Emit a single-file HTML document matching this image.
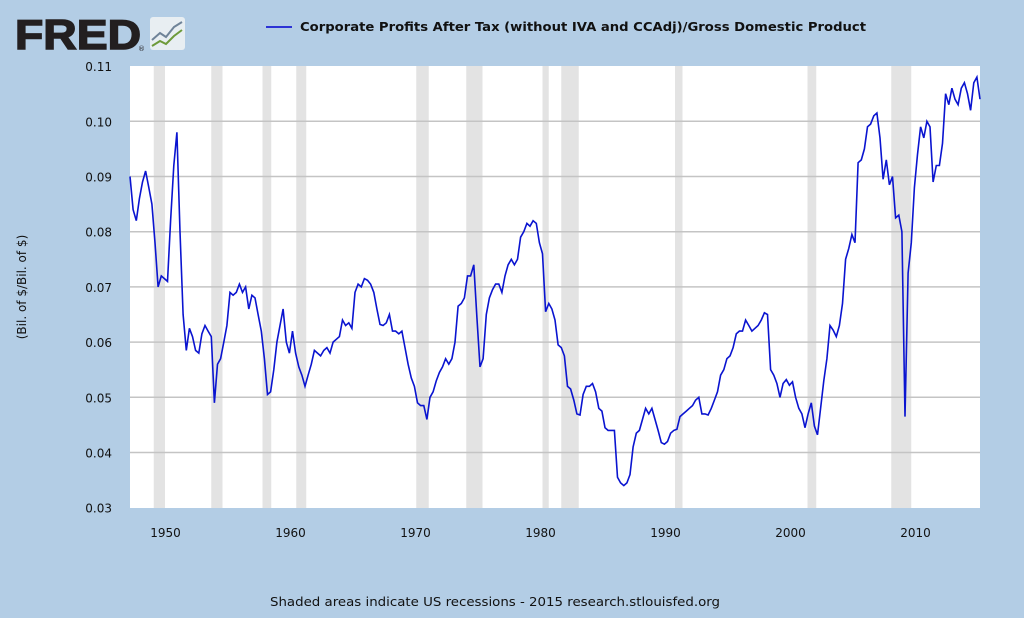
<!DOCTYPE html>
<html><head><meta charset="utf-8"><style>
body{margin:0;width:1024px;height:614px;background:#b3cde5;font-family:"DejaVu Sans",sans-serif;overflow:hidden}
</style></head><body>
<svg width="1024" height="614" id="svg" font-family="DejaVu Sans">
<g>
<text x="15" y="49" font-size="42" font-weight="bold" fill="#231f20" font-family="Liberation Sans" textLength="126" lengthAdjust="spacingAndGlyphs" stroke="#231f20" stroke-width="1.5">FRED</text>
<text x="138" y="51" font-size="7" fill="#231f20">®</text>
<rect x="150" y="17" width="35" height="33" rx="3" fill="#e8eef2"/>
<polyline points="152,40 160,33 166,37 174,27 182,22" fill="none" stroke="#6f8398" stroke-width="2"/>
<polyline points="152,46 160,41 166,44 174,36 182,30" fill="none" stroke="#6d9a3a" stroke-width="2"/>
</g>
<line x1="266" y1="27" x2="292" y2="27" stroke="#0000d0" stroke-width="1.5"/>
<text x="300" y="31" font-size="12" font-weight="bold" fill="#111" textLength="566" lengthAdjust="spacingAndGlyphs">Corporate Profits After Tax (without IVA and CCAdj)/Gross Domestic Product</text>
<rect x="130" y="66" width="850" height="442" fill="#fff"/>
<g id="rec"></g><g id="grid"></g><g id="ticks"></g>
<path id="line" fill="none" stroke="#0a14d0" stroke-width="1.6"/>
<text x="26" y="287" font-size="12" fill="#111" transform="rotate(-90 26 287)" text-anchor="middle">(Bil. of $/Bil. of $)</text>
<text x="270" y="606" font-size="12" fill="#111" textLength="450" lengthAdjust="spacingAndGlyphs">Shaded areas indicate US recessions - 2015 research.stlouisfed.org</text>
</svg>
<script>
const years=[];
const values=[0.090,0.084,0.082,0.086,0.089,0.091,0.088,0.085,0.078,0.070,0.072,0.0715,0.071,0.082,0.092,0.098,0.080,0.065,0.0585,0.0625,0.061,0.0585,0.058,0.0615,0.063,0.062,0.061,0.049,0.056,0.057,0.060,0.063,0.069,0.0685,0.069,0.0705,0.069,0.070,0.066,0.0685,0.068,0.065,0.062,0.057,0.0505,0.051,0.055,0.060,0.063,0.066,0.060,0.058,0.062,0.058,0.0555,0.054,0.052,0.054,0.056,0.0585,0.058,0.0575,0.0585,0.059,0.058,0.060,0.0605,0.061,0.064,0.063,0.0635,0.0625,0.069,0.0705,0.070,0.0715,0.0712,0.0705,0.069,0.066,0.0632,0.063,0.0635,0.065,0.062,0.062,0.0615,0.062,0.059,0.056,0.0535,0.052,0.049,0.0485,0.0485,0.046,0.050,0.051,0.053,0.0545,0.0555,0.057,0.056,0.057,0.060,0.0665,0.067,0.068,0.072,0.072,0.074,0.0645,0.0555,0.057,0.065,0.068,0.0695,0.0705,0.0705,0.069,0.072,0.074,0.075,0.074,0.075,0.079,0.080,0.0815,0.081,0.082,0.0815,0.078,0.076,0.0655,0.067,0.066,0.064,0.0595,0.059,0.0575,0.052,0.0515,0.0495,0.047,0.0468,0.0505,0.052,0.052,0.0525,0.051,0.048,0.0475,0.0445,0.044,0.044,0.044,0.0355,0.0345,0.034,0.0345,0.036,0.041,0.0435,0.044,0.046,0.048,0.047,0.048,0.046,0.044,0.0418,0.0415,0.042,0.0435,0.044,0.0442,0.0465,0.047,0.0475,0.048,0.0485,0.0495,0.050,0.047,0.047,0.0468,0.048,0.0495,0.051,0.054,0.055,0.057,0.0575,0.059,0.0615,0.062,0.062,0.064,0.063,0.062,0.0625,0.063,0.064,0.0653,0.065,0.055,0.054,0.0525,0.050,0.0525,0.0532,0.0522,0.0528,0.050,0.048,0.047,0.0445,0.047,0.049,0.0448,0.0432,0.048,0.053,0.057,0.063,0.0622,0.061,0.063,0.067,0.075,0.077,0.0795,0.078,0.0925,0.093,0.095,0.099,0.0995,0.101,0.1015,0.097,0.0895,0.093,0.0885,0.090,0.0825,0.083,0.080,0.0465,0.0725,0.078,0.088,0.094,0.099,0.097,0.100,0.099,0.089,0.092,0.092,0.096,0.105,0.103,0.106,0.104,0.103,0.106,0.107,0.105,0.102,0.107,0.108,0.104];
for(let i=0;i<values.length;i++)years.push(1947+i*0.25);
const recStart=[1948.9,1953.5,1957.6,1960.3,1969.9,1973.9,1980.0,1981.5,1990.6,2001.2,2007.9];
const recEnd=[1949.8,1954.4,1958.3,1961.1,1970.9,1975.2,1980.5,1982.9,1991.2,2001.9,2009.5];
const yTicks=[0.03,0.04,0.05,0.06,0.07,0.08,0.09,0.10,0.11];
const xTicks=[1950,1960,1970,1980,1990,2000,2010];
const X=y=>130+(y-1947)*(850/68);
const Y=v=>507.7-(v-0.03)*5520;
const NS="http://www.w3.org/2000/svg";
function mk(t,p,a){const e=document.createElementNS(NS,t);for(const k in a)e.setAttribute(k,a[k]);p.appendChild(e);return e;}
const rec=document.getElementById('rec'),grid=document.getElementById('grid'),ticks=document.getElementById('ticks');
recStart.forEach((s,i)=>{const r=mk('rect',rec,{x:X(s),y:66,width:X(recEnd[i])-X(s),height:442,fill:'#e3e3e3'});

});
yTicks.forEach(v=>{
if(v>0.031&&v<0.109){const l=mk('line',grid,{x1:130,x2:980,y1:Y(v),y2:Y(v),stroke:'#c4c4c4','stroke-width':1.5});

}
const t=mk('text',ticks,{x:112,y:Y(v)+5,'font-size':12,fill:'#111','text-anchor':'end'});t.textContent=v.toFixed(2);

});
xTicks.forEach(yr=>{const t=mk('text',ticks,{x:X(yr)-2,y:537,'font-size':12,fill:'#111','text-anchor':'middle'});t.textContent=yr;

});
document.getElementById('line').setAttribute('d',values.map((v,i)=>(i?'L':'M')+X(years[i]).toFixed(1)+','+Y(v).toFixed(1)).join(''));
</script>
</body></html>
